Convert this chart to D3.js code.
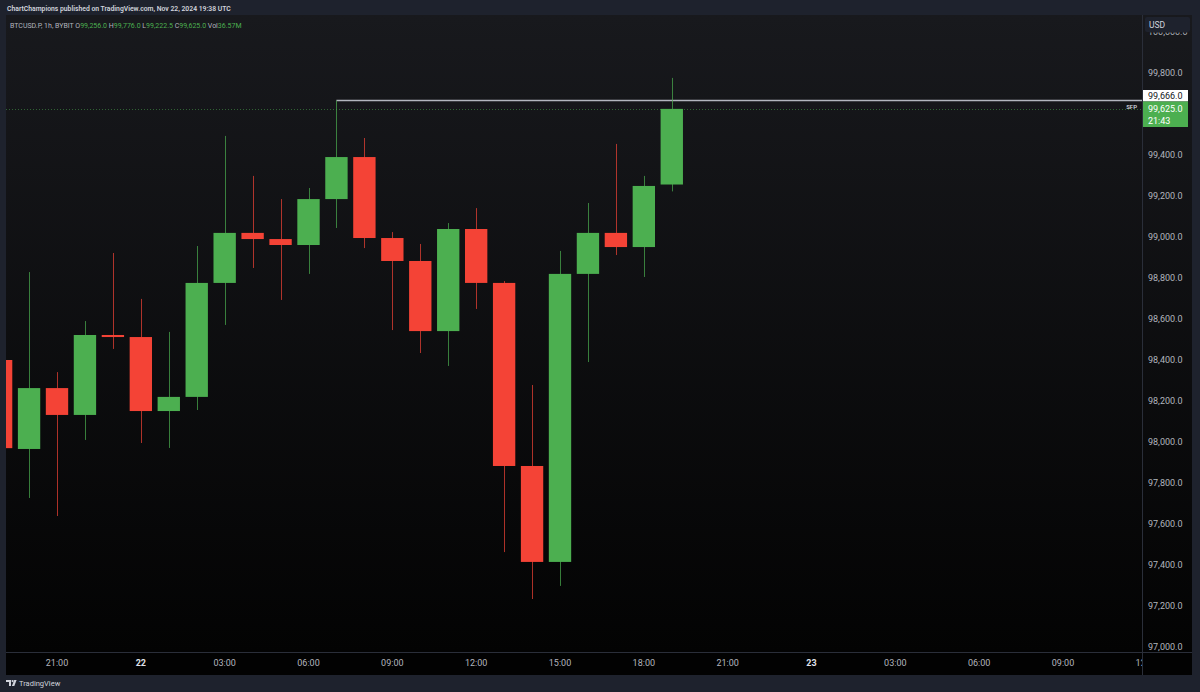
<!DOCTYPE html>
<html><head><meta charset="utf-8">
<script src="https://cdn.jsdelivr.net/npm/d3@7"></script>
<style>html,body{margin:0;padding:0;background:#1e222d;}svg{display:block;}</style>
</head><body>
<svg id="c" width="1200" height="692"></svg>
<script>
// ---- data ----
const times = ["2024-11-21T19:00Z","2024-11-21T20:00Z","2024-11-21T21:00Z","2024-11-21T22:00Z","2024-11-21T23:00Z",
  "2024-11-22T00:00Z","2024-11-22T01:00Z","2024-11-22T02:00Z","2024-11-22T03:00Z","2024-11-22T04:00Z","2024-11-22T05:00Z",
  "2024-11-22T06:00Z","2024-11-22T07:00Z","2024-11-22T08:00Z","2024-11-22T09:00Z","2024-11-22T10:00Z","2024-11-22T11:00Z",
  "2024-11-22T12:00Z","2024-11-22T13:00Z","2024-11-22T14:00Z","2024-11-22T15:00Z","2024-11-22T16:00Z","2024-11-22T17:00Z",
  "2024-11-22T18:00Z","2024-11-22T19:00Z"];
const opens  = [98400,97966,98263,98132,98522,98512,98151,98220,98776,99020,98990,98961,99185,99390,98995,98883,98541,99039,98776,97883,97415,98820,99020,98951,99256];
const highs  = [98450,98829,98341,98590,98922,98698,98537,98956,99493,99298,99185,99239,99666,99483,99024,98966,99068,99141,98785,98278,98932,99166,99454,99298,99776];
const lows   = [97900,97727,97639,98010,98454,97995,97971,98156,98571,98849,98693,98820,99044,98946,98546,98434,98371,98649,97463,97234,97298,98390,98912,98805,99222.5];
const closes = [97970,98263,98132,98522,98512,98151,98220,98776,99020,98990,98961,99185,99390,98995,98883,98541,99039,98776,97883,97415,98820,99020,98951,99249,99625];
const priceTicks = [97000,97200,97400,97600,97800,98000,98200,98400,98600,98800,99000,99200,99400,99800,100000];
const timeTickTimes = ["2024-11-21T21:00Z","2024-11-22T00:00Z","2024-11-22T03:00Z","2024-11-22T06:00Z","2024-11-22T09:00Z",
  "2024-11-22T12:00Z","2024-11-22T15:00Z","2024-11-22T18:00Z","2024-11-22T21:00Z","2024-11-23T00:00Z","2024-11-23T03:00Z",
  "2024-11-23T06:00Z","2024-11-23T09:00Z","2024-11-23T12:00Z"];
const timeTickLabels = ["21:00","22","03:00","06:00","09:00","12:00","15:00","18:00","21:00","23","03:00","06:00","09:00","12:00"];
const sfpLevel = 99666;
const sfpFrom = "2024-11-22T07:00Z";
const lastPrice = 99625;
const countdown = "21:43";
const headerText = "ChartChampions published on TradingView.com, Nov 22, 2024 19:38 UTC";
const symbolText = "BTCUSD.P, 1h, BYBIT";
const legendKeys = ["O","H","L","C","Vol"];
const legendVals = ["99,256.0","99,776.0","99,222.5","99,625.0","36.57M"];

// ---- layout ----
const paneL=6, paneR=1192, paneT=15, paneB=652, plotR=1142, timeB=675;
const UP="#4caf50", DN="#f44336";
const font="Roboto, 'Noto Sans', sans-serif";

const svg=d3.select("#c");
const defs=svg.append("defs");
const grad=defs.append("linearGradient").attr("id","bg").attr("x1",0).attr("x2",0).attr("y1",0).attr("y2",1);
grad.append("stop").attr("offset","0%").attr("stop-color","#18191d");
grad.append("stop").attr("offset","100%").attr("stop-color","#030303");
defs.append("clipPath").attr("id","plotClip").append("rect").attr("x",paneL).attr("y",paneT).attr("width",plotR-paneL).attr("height",paneB-paneT);
defs.append("clipPath").attr("id","timeClip").append("rect").attr("x",paneL).attr("y",paneB).attr("width",plotR-paneL).attr("height",timeB-paneB);
defs.append("clipPath").attr("id","axisClip").append("rect").attr("x",plotR).attr("y",32.5).attr("width",paneR-plotR).attr("height",paneB-32.5);

svg.append("rect").attr("width",1200).attr("height",692).attr("fill","#1e222d");
svg.append("rect").attr("x",paneL).attr("y",paneT).attr("width",paneR-paneL).attr("height",paneB-paneT).attr("fill","url(#bg)");
svg.append("rect").attr("x",paneL).attr("y",paneB).attr("width",paneR-paneL).attr("height",timeB-paneB).attr("fill","#020202");

const parse=d3.utcParse("%Y-%m-%dT%H:%MZ");
const x=d3.scaleUtc().domain([parse("2024-11-21T21:00Z"),parse("2024-11-23T09:00Z")]).range([57,1063]);
const y=d3.scaleLinear().domain([97000,99800]).range([647,73]);
const hourW = x(parse("2024-11-21T22:00Z"))-x(parse("2024-11-21T21:00Z"));
const bodyW = hourW*0.8;

const candles = times.map((t,i)=>({t:parse(t),o:opens[i],h:highs[i],l:lows[i],c:closes[i]}));

const plot=svg.append("g").attr("clip-path","url(#plotClip)");

// current price dotted line
plot.append("line").attr("x1",paneL).attr("x2",plotR).attr("y1",Math.round(y(lastPrice))+0.5).attr("y2",Math.round(y(lastPrice))+0.5)
  .attr("stroke",UP).attr("stroke-opacity",0.5).attr("stroke-dasharray","1,2");

// SFP level line
plot.append("line").attr("x1",x(parse(sfpFrom))).attr("x2",plotR).attr("y1",y(sfpLevel)).attr("y2",y(sfpLevel))
  .attr("stroke","#b2b5be").attr("stroke-width",1.5);

const cg=plot.selectAll("g.c").data(candles).join("g").attr("class","c");
cg.append("line").attr("x1",d=>Math.round(x(d.t))+0.5).attr("x2",d=>Math.round(x(d.t))+0.5)
  .attr("y1",d=>y(d.h)).attr("y2",d=>y(d.l))
  .attr("stroke",d=>d.c>=d.o?UP:DN).attr("stroke-opacity",0.7).attr("stroke-width",1);
cg.append("rect").attr("x",d=>x(d.t)-bodyW/2).attr("width",bodyW)
  .attr("y",d=>y(Math.max(d.o,d.c))).attr("height",d=>Math.max(1.5,Math.abs(y(d.o)-y(d.c))))
  .attr("fill",d=>d.c>=d.o?UP:DN);

plot.append("text").attr("x",1137).attr("y",y(lastPrice)+0.5).attr("text-anchor","end")
  .attr("font-family",font).attr("font-size",6).attr("font-weight",600).attr("fill","#d1d4dc").text("SFP");

// separators
svg.append("line").attr("x1",plotR+0.5).attr("x2",plotR+0.5).attr("y1",paneT).attr("y2",timeB).attr("stroke","#2a2e39");
svg.append("line").attr("x1",paneL).attr("x2",paneR).attr("y1",paneB+0.5).attr("y2",paneB+0.5).attr("stroke","#2a2e39");

// price axis
const pa=svg.append("g").attr("clip-path","url(#axisClip)");
pa.selectAll("text").data(priceTicks).join("text")
  .attr("x",1148).attr("y",d=>y(d)+3.2)
  .attr("font-family",font).attr("font-size",9).attr("fill","#b2b5be")
  .text(d=>d3.format(",.1f")(d));

// USD box
svg.append("rect").attr("x",1145).attr("y",17).attr("width",45).attr("height",15).attr("rx",2).attr("fill","#1e222d");
svg.append("text").attr("x",1149).attr("y",27.5).attr("font-family",font).attr("font-size",8.5).attr("fill","#d1d4dc").text("USD");

// SFP label (white)
svg.append("rect").attr("x",plotR+1).attr("y",90).attr("width",45).attr("height",11.5).attr("fill","#ffffff");
svg.append("text").attr("x",1148).attr("y",99).attr("font-family",font).attr("font-size",9).attr("fill","#131722").text(d3.format(",.1f")(sfpLevel));
// last price label (green)
svg.append("rect").attr("x",plotR+1).attr("y",101.5).attr("width",45).attr("height",25.5).attr("fill",UP);
svg.append("text").attr("x",1148).attr("y",112).attr("font-family",font).attr("font-size",9).attr("fill","#ffffff").text(d3.format(",.1f")(lastPrice));
svg.append("text").attr("x",1148).attr("y",123.5).attr("font-family",font).attr("font-size",9).attr("fill","#ffffff").text(countdown);

// time axis
const ta=svg.append("g").attr("clip-path","url(#timeClip)");
ta.selectAll("text").data(timeTickTimes.map((t,i)=>({t:parse(t),l:timeTickLabels[i]}))).join("text")
  .attr("x",d=>x(d.t)).attr("y",666).attr("text-anchor","middle")
  .attr("font-family",font).attr("font-size",9)
  .attr("font-weight",d=>d.l.length<=2?700:400)
  .attr("fill",d=>d.l.length<=2?"#e0e3eb":"#b2b5be").text(d=>d.l);

// header
svg.append("text").attr("x",7).attr("y",10.5).attr("font-family",font).attr("font-size",6.8).attr("font-weight",600).attr("fill","#d1d4dc").text(headerText);

// legend
const lg=svg.append("text").attr("x",10).attr("y",28).attr("font-family",font).attr("font-size",7);
lg.append("tspan").attr("fill","#b2b5be").text(symbolText+"  ");
legendKeys.forEach((k,i)=>{
  lg.append("tspan").attr("fill","#b2b5be").text(k);
  lg.append("tspan").attr("fill",UP).text(legendVals[i]+(i<legendKeys.length-1?"  ":""));
});

// footer logo
const logo=svg.append("g").attr("transform","translate(6,680)").attr("fill","#d1d4dc");
logo.append("path").attr("d","M0 0H5V6H3V2H0Z");
logo.append("circle").attr("cx",6.6).attr("cy",1.1).attr("r",1.1);
logo.append("path").attr("d","M8.2 0H10.6L8.3 6H5.9Z");
svg.append("text").attr("x",19).attr("y",686).attr("font-family",font).attr("font-size",7.5).attr("fill","#d1d4dc").text("TradingView");
</script>
</body></html>
